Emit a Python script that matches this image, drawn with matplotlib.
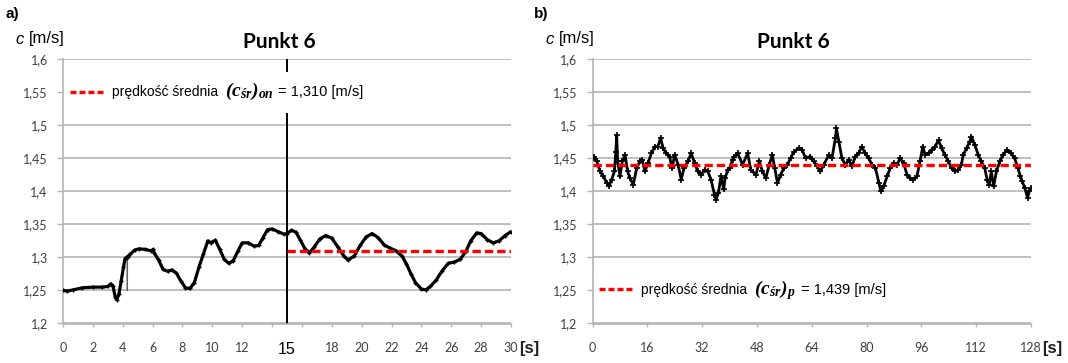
import matplotlib
matplotlib.use("Agg")
import matplotlib.pyplot as plt
from matplotlib.lines import Line2D
from matplotlib.patches import Rectangle
from matplotlib.transforms import IdentityTransform

plt.rcParams["mathtext.fontset"] = "custom"
plt.rcParams["mathtext.rm"] = "Liberation Serif"
plt.rcParams["mathtext.it"] = "Liberation Serif:italic"
plt.rcParams["mathtext.bf"] = "Liberation Serif:bold"
plt.rcParams["mathtext.bfit"] = "Liberation Serif:bold:italic"

# --- Punkt 6, part a): start-up run (time [s], velocity [m/s]) ---
t_on = [0.0, 0.3, 0.7, 1.3, 2.0, 2.6, 3.0, 3.2, 3.35, 3.5, 3.6, 3.75, 3.9, 4.05,
        4.15, 4.3, 4.31, 4.32, 4.5, 4.8, 5.1, 5.5, 5.9, 6.05, 6.1, 6.4, 6.7, 7.0,
        7.3, 7.6, 7.9, 8.2, 8.5, 8.8, 9.1, 9.4, 9.7, 9.9, 10.2, 10.5, 10.8, 11.1,
        11.4, 11.7, 12.0, 12.4, 12.8, 13.1, 13.4, 13.7, 14.0, 14.4, 14.8, 15.0,
        15.3, 15.6, 15.9, 16.2, 16.5, 16.8, 17.2, 17.6, 18.0, 18.4, 18.8, 19.1,
        19.5, 19.9, 20.3, 20.7, 21.1, 21.5, 21.9, 22.3, 22.7, 23.0, 23.3, 23.6,
        24.0, 24.3, 24.6, 25.0, 25.4, 25.8, 26.2, 26.6, 27.0, 27.3, 27.7, 28.0,
        28.4, 28.8, 29.2, 29.6, 30.0]
c_on = [1.250, 1.249, 1.251, 1.254, 1.255, 1.255, 1.256, 1.260, 1.256, 1.240,
        1.236, 1.245, 1.265, 1.285, 1.298, 1.301, 1.250, 1.301, 1.305, 1.311,
        1.313, 1.312, 1.310, 1.312, 1.307, 1.296, 1.282, 1.279, 1.281, 1.276,
        1.264, 1.254, 1.253, 1.262, 1.285, 1.305, 1.325, 1.322, 1.326, 1.312,
        1.297, 1.291, 1.295, 1.309, 1.322, 1.322, 1.317, 1.318, 1.330, 1.342,
        1.343, 1.339, 1.335, 1.336, 1.341, 1.338, 1.326, 1.313, 1.307, 1.315,
        1.328, 1.333, 1.329, 1.316, 1.302, 1.296, 1.302, 1.318, 1.331, 1.336,
        1.330, 1.319, 1.314, 1.310, 1.302, 1.290, 1.275, 1.262, 1.252, 1.251,
        1.256, 1.266, 1.280, 1.291, 1.293, 1.297, 1.310, 1.325, 1.337, 1.336,
        1.327, 1.322, 1.325, 1.333, 1.339]
# index of the single dropout sample in the start-up record
dropout_idx = 16
mean_on = 1.310
t_mean_on = [15, 30]
t_mark = 15

# --- Punkt 6, part b): steady run ---
t_p = [0.0, 0.5, 1.3, 2.2, 3.2, 4.2, 4.8, 5.6, 6.4, 6.8, 7.06, 7.35, 8.0, 8.7,
       9.5, 10.25, 10.9, 11.9, 12.9, 13.8, 14.5, 15.3, 16.2, 17.2, 18.2, 19.1,
       19.9, 20.6, 21.6, 22.5, 23.2, 24.0, 25.0, 25.9, 26.7, 27.85, 28.8, 29.8,
       30.75, 31.7, 32.7, 33.65, 34.6, 35.6, 36.1, 36.75, 37.5, 38.3, 38.7,
       39.5, 40.0, 40.9, 41.4, 42.4, 43.8, 45.3, 46.2, 47.7, 48.7, 49.6, 50.6,
       51.6, 52.5, 53.2, 54.0, 54.9, 55.9, 56.9, 57.8, 58.8, 60.3, 61.2, 62.2,
       63.6, 64.6, 65.6, 66.5, 67.5, 69.0, 69.9, 70.9, 71.2, 71.9, 72.8, 73.8,
       74.8, 75.7, 76.7, 77.7, 78.6, 79.6, 80.6, 81.6, 82.6, 83.6, 84.2, 85.0,
       86.0, 86.9, 87.9, 88.9, 89.8, 90.8, 91.8, 92.7, 93.7, 94.7, 95.6, 96.4,
       97.1, 98.1, 99.0, 100.0, 101.0, 101.9, 102.9, 103.9, 104.8, 105.8, 106.8,
       107.7, 108.2, 109.2, 110.1, 110.6, 111.6, 112.6, 113.5, 114.5, 115.2,
       115.8, 116.4, 117.1, 117.9, 118.9, 119.8, 121.0, 122.2, 123.2, 124.2,
       124.9, 125.4, 126.2, 127.0, 127.5, 128.0]
c_p = [1.450, 1.452, 1.445, 1.430, 1.4225, 1.4125, 1.4075, 1.4175, 1.430, 1.460,
       1.485, 1.445, 1.4225, 1.445, 1.455, 1.430, 1.420, 1.410, 1.435, 1.445,
       1.4475, 1.430, 1.4425, 1.4575, 1.4675, 1.4675, 1.481, 1.465, 1.4575,
       1.4525, 1.435, 1.455, 1.440, 1.4175, 1.435, 1.445, 1.4575, 1.4425, 1.430,
       1.425, 1.4325, 1.430, 1.4175, 1.395, 1.3875, 1.3975, 1.4225, 1.403,
       1.420, 1.4325, 1.435, 1.4475, 1.4525, 1.4575, 1.440, 1.4575, 1.4325,
       1.425, 1.445, 1.430, 1.420, 1.440, 1.455, 1.435, 1.4125, 1.425, 1.435,
       1.440, 1.450, 1.460, 1.465, 1.4625, 1.450, 1.4525, 1.445, 1.4375, 1.430,
       1.440, 1.455, 1.450, 1.480, 1.495, 1.475, 1.450, 1.440, 1.4475, 1.4375,
       1.4525, 1.4575, 1.4675, 1.4575, 1.450, 1.440, 1.435, 1.4125, 1.400,
       1.4075, 1.4225, 1.435, 1.4425, 1.440, 1.450, 1.4425, 1.425, 1.420,
       1.4175, 1.4225, 1.445, 1.4675, 1.455, 1.4575, 1.4625, 1.4675, 1.4775,
       1.465, 1.455, 1.445, 1.435, 1.430, 1.4325, 1.440, 1.455, 1.465, 1.475,
       1.4825, 1.470, 1.455, 1.445, 1.435, 1.4175, 1.410, 1.430, 1.4075, 1.430,
       1.445, 1.455, 1.4625, 1.4575, 1.450, 1.435, 1.4225, 1.415, 1.405, 1.390,
       1.400, 1.405]
mean_p = 1.439
t_mean_p = [0, 128]

y_ticks = [1.2, 1.25, 1.3, 1.35, 1.4, 1.45, 1.5, 1.55, 1.6]
y_tick_labels = ["1,2", "1,25", "1,3", "1,35", "1,4", "1,45", "1,5", "1,55", "1,6"]
x_ticks_a = list(range(0, 31, 2))
x_tick_labels_a = ["0", "2", "4", "6", "8", "10", "12", "", "", "18", "20", "22",
                   "24", "26", "28", "30"]
x_ticks_b = list(range(0, 129, 16))
x_tick_labels_b = [str(v) for v in x_ticks_b]

legend_words = "prędkość średnia"
legend_sym_a = r"$\mathbfit{(c_{śr})_{on}}$"
legend_sym_b = r"$\mathbfit{(c_{śr})_{p}}$"
legend_val_a = "= 1,310 [m/s]"
legend_val_b = "= 1,439 [m/s]"
# vertical band kept clear behind each legend line (data units)
legend_band_a = (1.518, 1.581)
legend_band_b = (1.219, 1.282)

GRID = "#b4b4b4"
TICK_TXT = "#404040"
NUM_FONT = "Lato"
TXT_FONT = "Liberation Sans"
RED = "#ff0000"
LEG_SIZE = 10
SYM_SIZE = 14
VAL_SIZE = 10.5

W, H = 1068, 363
fig = plt.figure(figsize=(W / 100, H / 100), dpi=100)
PIX = IdentityTransform()


def frac_box(x0, x1, ytop, ybot):
    return [x0 / W, 1 - ybot / H, (x1 - x0) / W, (ybot - ytop) / H]


def style_axes(ax, xlim, xticks, xlabels):
    ax.set_xlim(*xlim)
    ax.set_ylim(1.2, 1.6)
    ax.set_yticks(y_ticks)
    ax.set_yticklabels(y_tick_labels, fontfamily=NUM_FONT, fontsize=9,
                       color=TICK_TXT)
    ax.set_xticks(xticks)
    ax.set_xticklabels(xlabels, fontfamily=NUM_FONT, fontsize=9,
                       color=TICK_TXT)
    ax.tick_params(axis="y", length=4.5, width=1, color=GRID, pad=6.5)
    ax.tick_params(axis="x", length=2.5, width=1, color=GRID, pad=10.5)
    for s in ("top", "right"):
        ax.spines[s].set_visible(False)
    for s in ("left", "bottom"):
        ax.spines[s].set_color(GRID)
        ax.spines[s].set_linewidth(1.2)
    ax.yaxis.grid(True, color=GRID, linewidth=1.2)
    ax.set_axisbelow(True)


def add_legend(ax, band):
    ax.add_patch(Rectangle((0, band[0]), 1, band[1] - band[0],
                           transform=ax.get_yaxis_transform(),
                           facecolor="white", edgecolor="none", zorder=2.2))
    leg = ax.legend([Line2D([], [], color=RED, linewidth=2.4, dashes=(1.8, 0.9))],
                    [legend_words], loc="center left",
                    bbox_to_anchor=(0.0, (band[0] + band[1]) / 2),
                    bbox_transform=ax.get_yaxis_transform(), frameon=False,
                    handlelength=2.5, handletextpad=0.5, borderpad=0.0,
                    borderaxespad=0.5,
                    prop={"family": TXT_FONT, "size": LEG_SIZE})
    leg.set_zorder(10)
    return leg


def finish_legend(leg, sym, val):
    # symbol and value follow the legend words on the same baseline
    r = fig.canvas.get_renderer()
    words = leg.get_texts()[0]
    bb = words.get_window_extent(r)
    _, _, d = r.get_text_width_height_descent(
        "lp", words.get_fontproperties(), ismath=False)
    base = bb.y0 + d
    sym_t = fig.text(bb.x1 + 7, base, sym, transform=PIX, ha="left",
                     va="baseline", fontsize=SYM_SIZE, color="black", zorder=10)
    fig.canvas.draw()
    sb = sym_t.get_window_extent(fig.canvas.get_renderer())
    fig.text(sb.x1 + 5, base, val, transform=PIX, ha="left", va="baseline",
             fontfamily=TXT_FONT, fontsize=VAL_SIZE, color="black", zorder=10)


def x_unit(x_px):
    fig.text(x_px / W, 1 - 348 / H, "[s]", ha="left", va="center",
             fontfamily=TXT_FONT, fontsize=12, fontweight="bold", color="#202020")


# ---------------- a) ----------------
axA = fig.add_axes(frac_box(63, 511, 59, 323.5))
style_axes(axA, (0, 30), x_ticks_a, x_tick_labels_a)
# full record as a thin trace, so the dropout shows as a fine spike
axA.plot(t_on, c_on, color="#606060", linewidth=0.9, zorder=3)
t_main = [t for i, t in enumerate(t_on) if i != dropout_idx]
c_main = [c for i, c in enumerate(c_on) if i != dropout_idx]
axA.plot(t_main, c_main, color="black", linewidth=2.3, marker="+", markersize=3,
         markeredgewidth=1, zorder=3.1)
axA.axvline(t_mark, color="black", linewidth=1.4, zorder=2)
axA.plot(t_mean_on, [mean_on, mean_on], color=RED, linewidth=2.4,
         dashes=(2.5, 1.2), zorder=4)
fig.text(axA.transData.transform((t_mark, 1.2))[0] / W, 1 - 349 / H, "15",
         ha="center", va="center", fontfamily=TXT_FONT, fontsize=11.5,
         color="black")
x_unit(519)
legA = add_legend(axA, legend_band_a)

# ---------------- b) ----------------
axB = fig.add_axes(frac_box(592.5, 1031, 59, 323.5))
style_axes(axB, (0, 128), x_ticks_b, x_tick_labels_b)
axB.plot(t_p, c_p, color="black", linewidth=2.0, marker="+", markersize=4,
         markeredgewidth=1.2, zorder=3)
axB.plot(t_mean_p, [mean_p, mean_p], color=RED, linewidth=2.4,
         dashes=(2.5, 1.2), zorder=4)
x_unit(1042)
legB = add_legend(axB, legend_band_b)

# titles, axis captions and panel letters
for xc, letter, xl in ((279, "a)", 5), (793, "b)", 534)):
    fig.text(xc / W, 1 - 42 / H, "Punkt 6", ha="center", va="center",
             fontfamily=NUM_FONT, fontweight="bold", fontsize=15)
    fig.text(xl / W, 1 - 14 / H, letter, ha="left", va="center",
             fontfamily=TXT_FONT, fontweight="bold", fontsize=11)
for xl in (15, 545):
    fig.text(xl / W, 1 - 39 / H, "c", ha="left", va="center",
             fontfamily=TXT_FONT, fontstyle="italic", fontsize=12)
    fig.text((xl + 14) / W, 1 - 39 / H, "[m/s]", ha="left", va="center",
             fontfamily=TXT_FONT, fontsize=12)

fig.canvas.draw()
finish_legend(legA, legend_sym_a, legend_val_a)
finish_legend(legB, legend_sym_b, legend_val_b)

fig.savefig("out.png", dpi=100, facecolor="white")
